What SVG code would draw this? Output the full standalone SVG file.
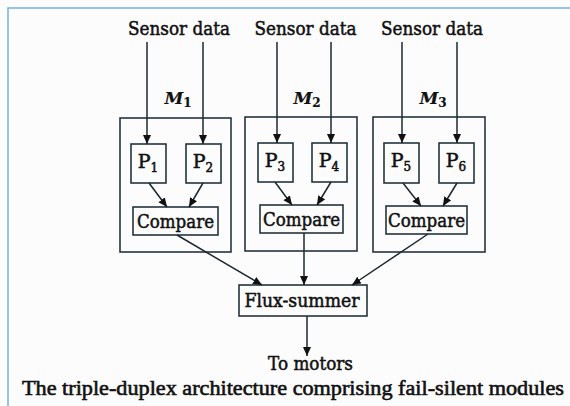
<svg xmlns="http://www.w3.org/2000/svg" width="570" height="406" viewBox="0 0 570 406">
  <style>
    text { font-family: "DejaVu Serif", "Liberation Serif", serif; fill: #111; stroke: #111; stroke-width: 0.55; }
    .lbl { font-size: 19px; text-anchor: middle; }
    .mod { font-size: 17px; font-style: italic; font-weight: bold; text-anchor: middle; stroke-width: 0.2; }
    .sub { font-size: 12px; font-style: normal; }
    .cap { font-family: "Liberation Serif", "Times New Roman", serif; font-size: 21px; stroke-width: 0.6; }
    .box { fill: none; stroke: #24343e; stroke-width: 1.6; }
    .wire { fill: none; stroke: #1c2830; stroke-width: 1.5; marker-end: url(#arrow); }
  </style>
  <defs>
    <marker id="arrow" markerWidth="10" markerHeight="10" refX="9" refY="4" orient="auto" markerUnits="userSpaceOnUse">
      <path d="M0,0 L9,4 L0,8 Z" fill="#111"/>
    </marker>
  </defs>

  <!-- page background and frame -->
  <rect x="0" y="0" width="570" height="406" fill="#fdfcfd"/>
  <rect x="8" y="8" width="620" height="460" fill="none" stroke="#6db3e2" stroke-width="1.5"/>

  <!-- inputs -->
  <g id="inputs">
    <text class="lbl" x="179" y="35" textLength="102" lengthAdjust="spacingAndGlyphs">Sensor data</text>
    <text class="lbl" x="305.5" y="35" textLength="102" lengthAdjust="spacingAndGlyphs">Sensor data</text>
    <text class="lbl" x="432" y="35" textLength="102" lengthAdjust="spacingAndGlyphs">Sensor data</text>
  </g>

  <!-- module M1 -->
  <g id="module-m1">
    <rect class="box" x="120" y="118" width="111" height="134"/>
    <text class="mod" x="178" y="104">M<tspan class="sub" dy="3">1</tspan></text>
    <g id="p1">
      <rect class="box" x="131" y="144" width="35" height="39"/>
      <text class="lbl" x="148" y="168">P<tspan class="sub" dy="4">1</tspan></text>
    </g>
    <g id="p2">
      <rect class="box" x="186" y="144" width="35" height="39"/>
      <text class="lbl" x="203" y="168">P<tspan class="sub" dy="4">2</tspan></text>
    </g>
    <g id="compare1">
      <rect class="box" x="133" y="207" width="85" height="28"/>
      <text class="lbl" x="175.5" y="228" textLength="77" lengthAdjust="spacingAndGlyphs">Compare</text>
    </g>
  </g>

  <!-- module M2 -->
  <g id="module-m2">
    <rect class="box" x="245" y="117" width="112" height="134"/>
    <text class="mod" x="307" y="104">M<tspan class="sub" dy="3">2</tspan></text>
    <g id="p3">
      <rect class="box" x="258" y="143" width="35" height="39"/>
      <text class="lbl" x="275" y="167">P<tspan class="sub" dy="4">3</tspan></text>
    </g>
    <g id="p4">
      <rect class="box" x="312" y="143" width="35" height="39"/>
      <text class="lbl" x="329" y="167">P<tspan class="sub" dy="4">4</tspan></text>
    </g>
    <g id="compare2">
      <rect class="box" x="260" y="205" width="83" height="28"/>
      <text class="lbl" x="301.5" y="226" textLength="77" lengthAdjust="spacingAndGlyphs">Compare</text>
    </g>
  </g>

  <!-- module M3 -->
  <g id="module-m3">
    <rect class="box" x="373" y="117" width="112" height="135"/>
    <text class="mod" x="433" y="104">M<tspan class="sub" dy="3">3</tspan></text>
    <g id="p5">
      <rect class="box" x="384" y="143" width="35" height="40"/>
      <text class="lbl" x="401" y="167">P<tspan class="sub" dy="4">5</tspan></text>
    </g>
    <g id="p6">
      <rect class="box" x="439" y="143" width="35" height="40"/>
      <text class="lbl" x="456" y="167">P<tspan class="sub" dy="4">6</tspan></text>
    </g>
    <g id="compare3">
      <rect class="box" x="386" y="206" width="81" height="28"/>
      <text class="lbl" x="426.5" y="227" textLength="77" lengthAdjust="spacingAndGlyphs">Compare</text>
    </g>
  </g>

  <!-- summer and output -->
  <g id="flux-summer">
    <rect class="box" x="239" y="285" width="128" height="31"/>
    <text class="lbl" x="302" y="307" textLength="115" lengthAdjust="spacingAndGlyphs">Flux-summer</text>
  </g>
  <g id="output">
    <text class="lbl" x="310.5" y="370" textLength="85" lengthAdjust="spacingAndGlyphs">To motors</text>
  </g>

  <!-- connectors -->
  <g id="connectors">
    <line class="wire" x1="147" y1="42" x2="147" y2="144"/>
    <line class="wire" x1="203" y1="42" x2="203" y2="144"/>
    <line class="wire" x1="277" y1="42" x2="277" y2="143"/>
    <line class="wire" x1="331" y1="42" x2="331" y2="143"/>
    <line class="wire" x1="402" y1="42" x2="402" y2="143"/>
    <line class="wire" x1="457" y1="42" x2="457" y2="143"/>

    <line class="wire" x1="149" y1="183" x2="167" y2="207"/>
    <line class="wire" x1="203" y1="183" x2="189" y2="207"/>
    <line class="wire" x1="275" y1="182" x2="292" y2="205"/>
    <line class="wire" x1="331" y1="182" x2="317" y2="205"/>
    <line class="wire" x1="403" y1="183" x2="421" y2="206"/>
    <line class="wire" x1="457" y1="183" x2="443" y2="206"/>

    <line class="wire" x1="177" y1="235" x2="262" y2="285"/>
    <line class="wire" x1="304" y1="233" x2="304" y2="285"/>
    <line class="wire" x1="428" y1="234" x2="352" y2="285"/>
    <line class="wire" x1="307" y1="316" x2="307" y2="356"/>
  </g>

  <!-- caption -->
  <text class="cap" x="22" y="395" textLength="542" lengthAdjust="spacingAndGlyphs">The triple-duplex architecture comprising fail-silent modules</text>
</svg>
